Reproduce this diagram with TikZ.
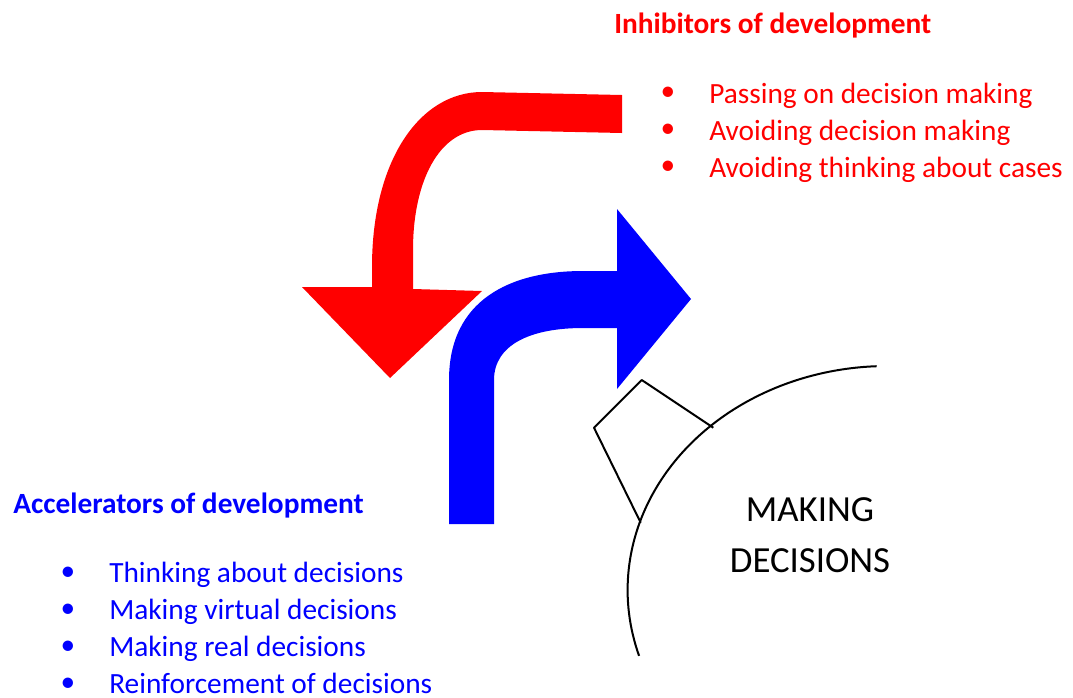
\documentclass[tikz,border=0pt]{standalone}
\usepackage{fontspec}
\setmainfont{Carlito}
\begin{document}
\begin{tikzpicture}[x=0.75pt,y=-0.75pt,
  listtext/.style={anchor=base west,inner sep=0pt,font=\fontsize{22}{27}\selectfont},
  listdot/.style={inner sep=0pt,font=\fontsize{22}{27}\selectfont},
  headtext/.style={anchor=base west,inner sep=0pt,font=\fontsize{22}{26}\selectfont\bfseries}]
\useasboundingbox (0,0) rectangle (1073,697);

% inhibitors arrow
\fill[red] (622,95) -- (482,92) .. controls (420,92) and (372,160) .. (372,267) -- (372,287) -- (302,287) -- (390,378) -- (482,291) -- (413,289) -- (413,250) .. controls (413,180) and (440,130) .. (482,130) -- (622,133) -- cycle;
% accelerators arrow
\fill[blue] (449,524) -- (449,380) .. controls (449,300) and (510,271) .. (583,271) -- (617,271) -- (617,209) -- (691,299) -- (617,389) -- (617,328) -- (583,328) .. controls (530,328) and (494,345) .. (494,380) -- (494,524) -- cycle;

% wheel
\draw[line width=1.5pt] (876.7,366.2) arc[start angle=-92.4, end angle=-197.1, x radius=260, y radius=224];
\draw[line width=1.5pt,line join=round] (640.7,522.7) -- (594,427.7) -- (641.7,380) -- (713.3,427.7);
\node[align=center,inner sep=0pt,font=\fontsize{27.6}{38.7}\selectfont] (making) at (810,535) {MAKING\\DECISIONS};

\node[headtext,red] (inhib) at (614,33) {Inhibitors of development};
\foreach \txt [count=\i] in {Passing on decision making,Avoiding decision making,Avoiding thinking about cases}{
  \node[listdot,red] (inhibdot\i) at (668,94+37*\i-37) {\textbullet};
  \node[listtext,red] (inhibitem\i) at (709,103+37*\i-37) {\txt};
}

\node[headtext,blue] (accel) at (13,513) {Accelerators of development};
\foreach \txt [count=\i] in {Thinking about decisions,Making virtual decisions,Making real decisions,Reinforcement of decisions}{
  \node[listdot,blue] (acceldot\i) at (68,574+37*\i-37) {\textbullet};
  \node[listtext,blue] (accelitem\i) at (109,582+37*\i-37) {\txt};
}
\end{tikzpicture}
\end{document}
